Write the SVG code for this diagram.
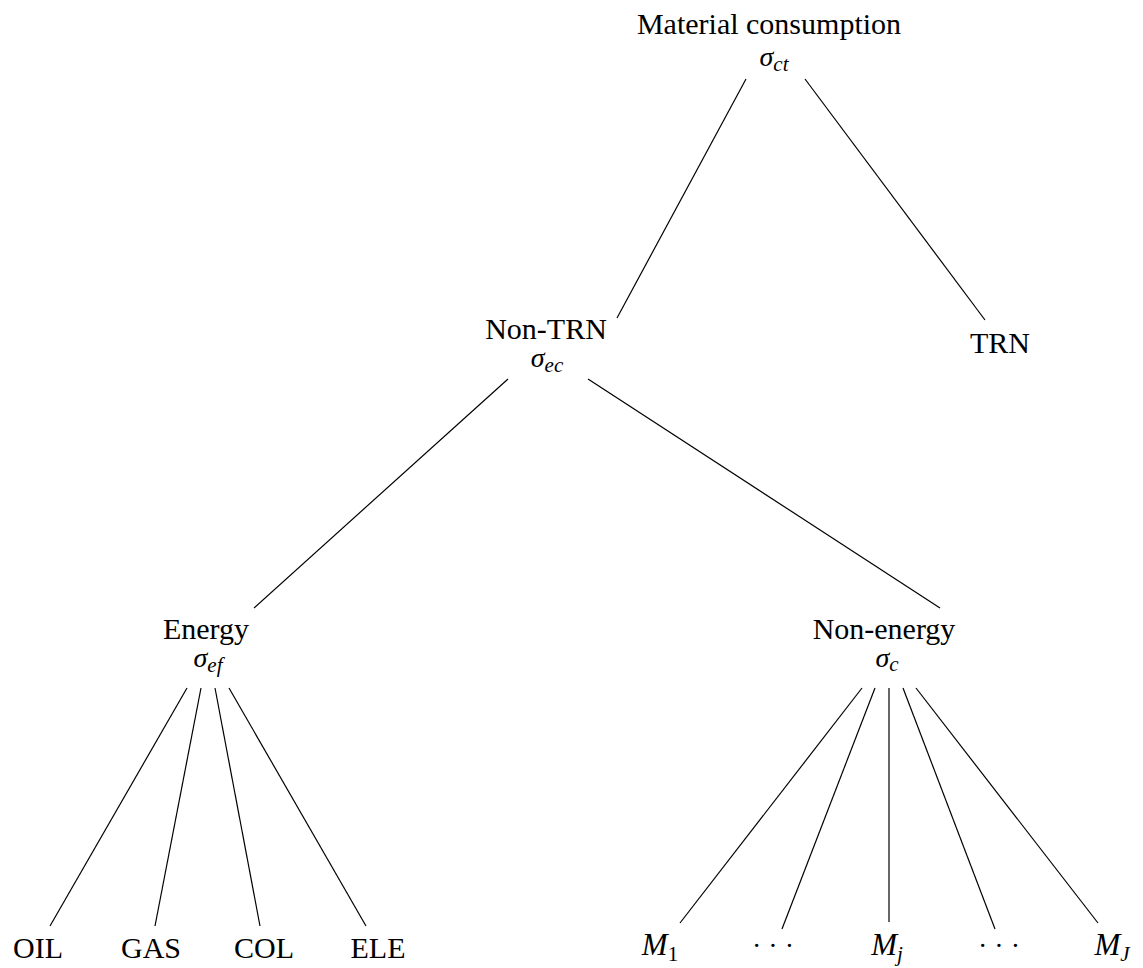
<svg xmlns="http://www.w3.org/2000/svg" width="1143" height="968" viewBox="0 0 1143 968">
<style>
.t{font-family:"Liberation Serif","Times New Roman",serif;font-size:30px;fill:#000;text-anchor:middle}
.s{font-family:"Liberation Serif","Times New Roman",serif;font-size:28px;font-style:italic;fill:#000;text-anchor:middle}
.sub{font-size:21px}
.m{font-family:"Liberation Serif","Times New Roman",serif;font-size:31px;font-style:italic;fill:#000;text-anchor:middle}
.ms{font-size:21px;font-style:normal}
.mi{font-size:21px;font-style:italic}
.d{font-family:"Liberation Serif","Times New Roman",serif;font-size:28px;fill:#000;text-anchor:middle}
.l{stroke:#000;stroke-width:1.2;fill:none}
</style>
<rect width="1143" height="968" fill="#fff"/>
<g id="connectors">
<line class="l" x1="746" y1="79" x2="617" y2="318"/>
<line class="l" x1="805" y1="79" x2="985" y2="320"/>
<line class="l" x1="508" y1="379" x2="254" y2="608"/>
<line class="l" x1="588" y1="379" x2="940" y2="608"/>
<line class="l" x1="187" y1="688" x2="50" y2="926"/>
<line class="l" x1="201" y1="688" x2="155" y2="926"/>
<line class="l" x1="215" y1="688" x2="260" y2="926"/>
<line class="l" x1="229" y1="688" x2="366" y2="926"/>
<line class="l" x1="862" y1="688" x2="680" y2="923"/>
<line class="l" x1="875" y1="688" x2="782" y2="929"/>
<line class="l" x1="889" y1="688" x2="889" y2="922"/>
<line class="l" x1="903" y1="688" x2="995" y2="929"/>
<line class="l" x1="916" y1="688" x2="1098" y2="923"/>
</g>
<g id="material">
<text class="t" x="769" y="34">Material consumption</text>
<text class="s" x="774" y="66">σ<tspan class="sub" dy="5">ct</tspan></text>
</g>
<g id="nontrn">
<text class="t" x="546" y="339">Non-TRN</text>
<text class="s" x="547" y="367">σ<tspan class="sub" dy="5">ec</tspan></text>
</g>
<g id="trn">
<text class="t" x="1000" y="353">TRN</text>
</g>
<g id="energy">
<text class="t" x="206" y="639">Energy</text>
<text class="s" x="208" y="667">σ<tspan class="sub" dy="5">ef</tspan></text>
</g>
<g id="nonenergy">
<text class="t" x="884" y="639">Non-energy</text>
<text class="s" x="887" y="667">σ<tspan class="sub" dy="4">c</tspan></text>
</g>
<g id="oil"><text class="t" x="38" y="958">OIL</text></g>
<g id="gas"><text class="t" x="151" y="958">GAS</text></g>
<g id="col"><text class="t" x="264" y="958">COL</text></g>
<g id="ele"><text class="t" x="378" y="958">ELE</text></g>
<g id="m1"><text class="m" x="660" y="955">M<tspan class="ms" dy="6">1</tspan></text></g>
<g id="dots1"><text class="d" x="773" y="955">· · ·</text></g>
<g id="mj"><text class="m" x="887" y="955">M<tspan class="mi" dy="6">j</tspan></text></g>
<g id="dots2"><text class="d" x="999" y="955">· · ·</text></g>
<g id="mJ"><text class="m" x="1112" y="955">M<tspan class="mi" dy="6">J</tspan></text></g>
</svg>
